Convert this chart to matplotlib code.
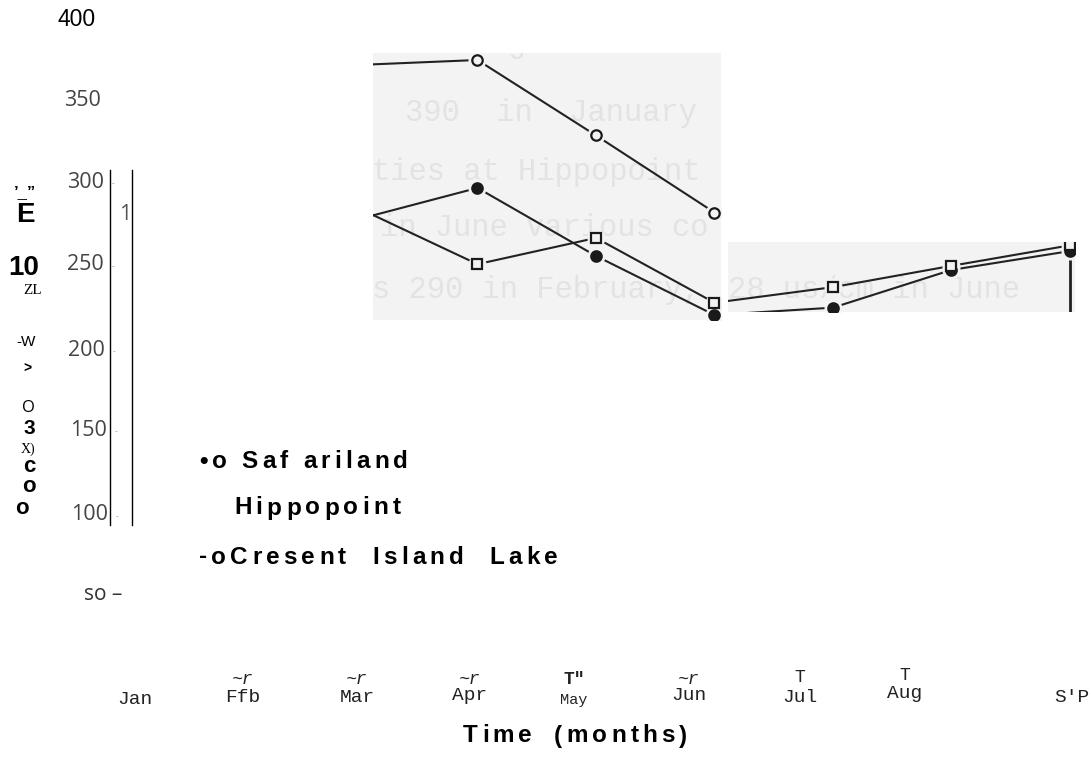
import numpy as np
import matplotlib
matplotlib.use("Agg")
import matplotlib.pyplot as plt
from matplotlib import font_manager
from matplotlib.font_manager import FontProperties
from matplotlib.patches import Rectangle

# monthly conductivity readings (uS/cm)
months = ['Jan', 'Feb', 'Mar', 'Apr', 'May', 'Jun', 'Jul', 'Aug', 'Sep']
safariland = [np.nan, np.nan, 278, 297, 255.5, 219.5, 224, 247, 258.5]
hippopoint = [np.nan, np.nan, 284.5, 250.5, 266.5, 227, 236.5, 249.5, 262]
cresent = [np.nan, np.nan, 372, 375, 329, 282, np.nan, np.nan, np.nan]

month_labels = ['Jan', 'Ffb', 'Mar', 'Apr', 'May', 'Jun', 'Jul', 'Aug', "S'P"]
month_marks = ['', '~r', '~r', '~r', 'T"', '~r', 'T', 'T', '']
ytick_labels = ['400', '350', '300', '250', '200', '150', '100', 'so –']
legend_labels = ['•o Saf ariland', 'Hippopoint', '-oCresent Island Lake']

W, H = 1092, 768


def pick(*names):
    for n in names:
        try:
            font_manager.findfont(n, fallback_to_default=False)
            return n
        except Exception:
            pass
    return 'DejaVu Sans'


SANS = pick('Liberation Sans', 'Arial')
NARROW = pick('Liberation Sans Narrow', 'Liberation Sans')
LIGHT = pick('Open Sans', 'Lato')
SERIF = pick('Liberation Serif')
MONO = pick('Liberation Mono')

fig = plt.figure(figsize=(W / 100, H / 100), dpi=100)
ax = fig.add_axes([0, 0, 1, 1])
renderer = fig.canvas.get_renderer()

# month index -> pixel column, value -> pixel row of the scanned plot
x0, dx = 122.0, 118.5
y300, per_unit = 183.0, 1.64


def px2x(px):
    return (px - x0) / dx


def px2y(py):
    return 300 - (py - y300) / per_unit


ax.set_xlim(px2x(0), px2x(W))
ax.set_ylim(px2y(H), px2y(0))
ax.axis('off')


def fpos(px, py):
    return px / W, 1 - py / H


def ftext(px, py, s, **kw):
    kw.setdefault('ha', 'center')
    kw.setdefault('va', 'center')
    return fig.text(*fpos(px, py), s, **kw)


def spaced(px, py, s, size, track, word=0.0, family=SANS, weight='bold'):
    # letter-spaced heading, one glyph at a time
    prop = FontProperties(family=family, weight=weight, size=size)
    ref_w = renderer.get_text_width_height_descent('x', prop, ismath=False)[0]
    gaps = 0
    for i, ch in enumerate(s):
        if ch == ' ':
            gaps += 1
            continue
        w = renderer.get_text_width_height_descent(s[:i] + 'x', prop, ismath=False)[0] - ref_w
        ftext(px + w + i * track + gaps * word, py, ch, fontproperties=prop, ha='left')


# scanned patches
bg = '#f3f3f3'
patches = []
for (l, t, r, b) in [(373, 53, 721, 320), (728, 242, 1075, 312)]:
    rect = Rectangle((px2x(l), px2y(b)), px2x(r) - px2x(l), px2y(t) - px2y(b),
                     facecolor=bg, edgecolor='none', zorder=0)
    ax.add_patch(rect)
    patches.append(rect)

# faint print showing through the scan
ghost = [(380, 44, 'nts ranged the s'),
         (405, 113, '390  in  January'),
         (372, 172, 'ties at Hippopoint'),
         (380, 228, 'in June various co'),
         (372, 290, 's 290 in February,'),
         (728, 290, '28 us/cm in June')]
for (px, py, s) in ghost:
    for rect in patches:
        t = ax.text(px2x(px), px2y(py), s, fontsize=22, family=MONO,
                    color='#e3e3e3', ha='left', va='center', zorder=1,
                    clip_on=True)
        t.set_clip_path(rect)

x = np.arange(len(months))
series = [(safariland, 'o', '#1a1a1a'),
          (hippopoint, 's', bg),
          (cresent, 'o', bg)]
for rect in patches:
    for vals, m, face in series:
        v = np.array(vals, dtype=float)
        ok = ~np.isnan(v)
        ln, = ax.plot(x[ok], v[ok], color='#222222', lw=1.5, zorder=2)
        ln.set_clip_path(rect)
        halo, = ax.plot(x[ok], v[ok], ls='none', marker='o', ms=12,
                        mfc=bg, mec=bg, zorder=3)
        halo.set_clip_path(rect)
    for vals, m, face in series:
        v = np.array(vals, dtype=float)
        ok = ~np.isnan(v)
        mk, = ax.plot(x[ok], v[ok], ls='none', marker=m, ms=7.5 if m == 'o' else 7,
                      mfc=face, mec='#1a1a1a', mew=1.6, zorder=4)
        mk.set_clip_path(rect)
    vl = ax.vlines(x[-1], px2y(312), safariland[-1], color='#222222', lw=2, zorder=2)
    vl.set_clip_path(rect)

# frame lines on the left
for px in (110, 132):
    ax.plot([px2x(px)] * 2, [px2y(170), px2y(525)], color='black', lw=1, zorder=2)

# y tick labels
ytick_pos = [(77, 20), (101, 101), (104, 182), (104, 265), (105, 350), (107, 430),
             (108, 515), (103, 595)]
for s, (px, py) in zip(ytick_labels, ytick_pos):
    if s == '400':
        ftext(px, py, s, fontsize=16.5, family=SANS, color='black')
    elif s.startswith('so'):
        ftext(px, py, s, fontsize=15, family=LIGHT, color='#333333')
    else:
        ftext(px, py, s, fontsize=15.5, family=LIGHT, color='#444444', ha='right')
        if s != '350':
            ftext(px + 9, py + 2, '-', fontsize=6, family=SANS, color='#888888')
ftext(125, 215, '1', fontsize=15.5, family=LIGHT, color='#555555')

# rotated axis title, broken up
ylab = [(25, 193, '’_”', 12, NARROW, 'bold'),
        (25, 215, 'E', 20, NARROW, 'bold'),
        (24, 268, '10', 20, NARROW, 'bold'),
        (33, 290, 'ZL', 11, SERIF, 'normal'),
        (26, 342, '-W', 11, SANS, 'normal'),
        (27, 369, '>', 10, SANS, 'bold'),
        (28, 408, 'O', 12, LIGHT, 'normal'),
        (29, 429, '3', 15, NARROW, 'bold'),
        (28, 449, 'X)', 10, SERIF, 'normal'),
        (29, 467, 'c', 16, NARROW, 'bold'),
        (29, 486, 'o', 16, NARROW, 'bold'),
        (22, 508, 'o', 16, NARROW, 'bold')]
for px, py, s, fs, fam, wt in ylab:
    ftext(px, py, s, fontsize=fs, family=fam, fontweight=wt, color='black')

# legend
leg_pos = [(199, 462), (234, 508), (199, 557)]
leg_word = [0, 0, 11]
for s, (px, py), wg in zip(legend_labels, leg_pos, leg_word):
    spaced(px, py, s, 17.5, 4.2, word=wg, family=NARROW)

# month labels
lab_x = [135, 243, 357, 470, 574, 689, 800, 905, 1072]
lab_y = [700, 698, 698, 696, 700, 696, 697, 694, 697]
mark_y = [680, 680, 680, 680, 680, 680, 678, 676, 680]
for s, mk, px, py, my in zip(month_labels, month_marks, lab_x, lab_y, mark_y):
    ftext(px, py, s, fontsize=11 if s == 'May' else 14,
          family=MONO, color='#222222')
    if mk:
        bold = mk.startswith('T"')
        ftext(px, my, mk, fontsize=13, family=MONO, color='#222222',
              fontweight='bold' if bold else 'normal',
              style='italic' if mk.startswith('~') else 'normal')

spaced(463, 736, 'Time (months)', 17.5, 4.2, word=7, family=NARROW)

fig.savefig('out.png', dpi=100)
